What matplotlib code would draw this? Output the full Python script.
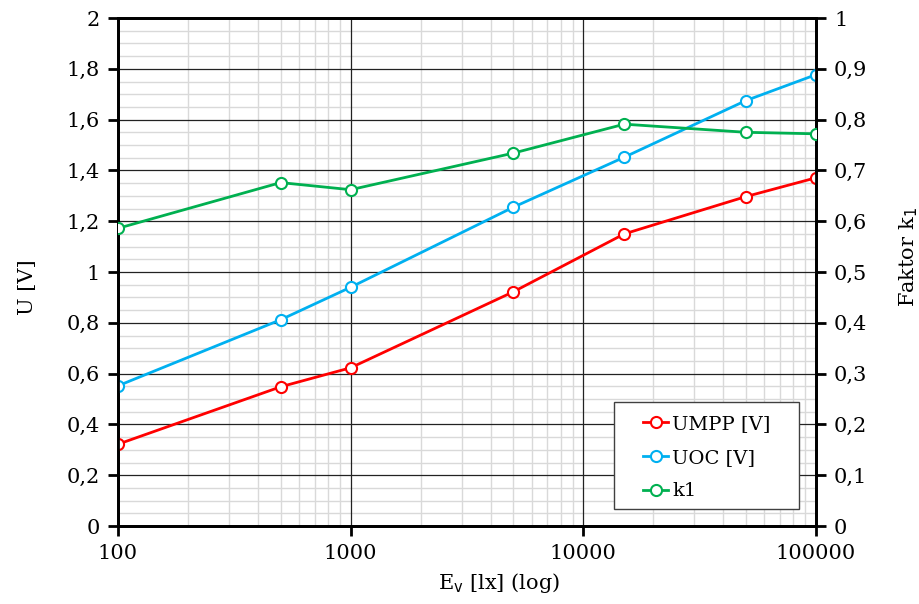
import matplotlib
matplotlib.use("Agg")
from matplotlib import pyplot as plt
from matplotlib.patches import Rectangle
from matplotlib.ticker import FixedLocator, FuncFormatter, NullFormatter, LogLocator

# illuminance [lx]
ev = [100, 500, 1000, 5000, 15000, 50000, 100000]
# voltages [V]
umpp = [0.322, 0.548, 0.623, 0.922, 1.150, 1.297, 1.371]
uoc = [0.552, 0.812, 0.940, 1.255, 1.452, 1.675, 1.777]
# factor k1 (right axis)
k1 = [0.586, 0.676, 0.662, 0.734, 0.791, 0.775, 0.772]

x_ticks = [100, 1000, 10000, 100000]
left_ticks = [0, 0.2, 0.4, 0.6, 0.8, 1.0, 1.2, 1.4, 1.6, 1.8, 2.0]
right_ticks = [0, 0.1, 0.2, 0.3, 0.4, 0.5, 0.6, 0.7, 0.8, 0.9, 1.0]

plt.rcParams['font.family'] = ['DejaVu Serif']
plt.rcParams['font.size'] = 15


def comma(v, pos):
    return ('%g' % v).replace('.', ',')


fig = plt.figure(figsize=(9.2, 6.04), dpi=100)
ax = fig.add_axes([118 / 920, 1 - 526 / 604, 698 / 920, 508 / 604])
ax2 = ax.twinx()

ax.set_xscale('log')
ax.set_xlim(100, 100000)
ax.set_ylim(0, 2)
ax2.set_ylim(0, 1)

ax.xaxis.set_major_locator(FixedLocator(x_ticks))
ax.xaxis.set_minor_locator(LogLocator(base=10, subs=range(2, 10)))
ax.xaxis.set_major_formatter(FuncFormatter(lambda v, p: '%d' % v))
ax.xaxis.set_minor_formatter(NullFormatter())
ax.yaxis.set_major_locator(FixedLocator(left_ticks))
ax.yaxis.set_minor_locator(FixedLocator([i * 0.05 for i in range(41)]))
ax.yaxis.set_major_formatter(FuncFormatter(comma))
ax2.yaxis.set_major_locator(FixedLocator(right_ticks))
ax2.yaxis.set_major_formatter(FuncFormatter(comma))

# light minor grid, dark major grid on top of it
ax.grid(which='minor', color='#d9d9d9', linewidth=1.0)
ax.set_axisbelow(True)
for v in x_ticks:
    ax.axvline(v, color='#222222', linewidth=0.9, zorder=1)
for v in left_ticks:
    ax.axhline(v, color='#222222', linewidth=0.9, zorder=1)

ax.tick_params(which='major', direction='out', length=7, width=2, pad=6)
ax.tick_params(which='minor', length=0)
ax2.tick_params(which='major', direction='out', length=7, width=2, pad=6)
ax2.tick_params(which='minor', length=0)
for a in (ax, ax2):
    for s in a.spines.values():
        s.set_linewidth(2)
        s.set_color('black')

mk = dict(marker='o', markersize=8, markerfacecolor='white', markeredgewidth=1.5, linewidth=2, zorder=3)
l1, = ax.plot(ev, umpp, color='#ff0000', label='UMPP [V]', **mk)
l2, = ax.plot(ev, uoc, color='#00b0f0', label='UOC [V]', **mk)
l3, = ax2.plot(ev, k1, color='#00b050', label='k1', **mk)

ax.set_ylabel('U [V]')
ax.yaxis.set_label_coords(-0.116, 0.47)
ax2.set_ylabel('Faktor k$_1$')
ax2.yaxis.set_label_coords(1.116, 0.53)
ax.set_xlabel('E$_\\mathrm{v}$ [lx] (log)')
ax.xaxis.set_label_coords(0.546, -0.088)

# legend box (frame drawn separately to get the wide side margins)
ax2.add_patch(Rectangle((0.7106, 0.0335), 0.265, 0.2106, transform=ax2.transAxes,
                        facecolor='white', edgecolor='#404040', linewidth=1.0, zorder=4))
leg = ax2.legend(handles=[l1, l2, l3], loc='upper left', bbox_to_anchor=(0.752, 0.218),
                 frameon=False, handlelength=1.3, handletextpad=0.2, borderpad=0,
                 labelspacing=0.8, borderaxespad=0, fontsize=14)
leg.set_zorder(5)

fig.savefig('out.png', dpi=100)
